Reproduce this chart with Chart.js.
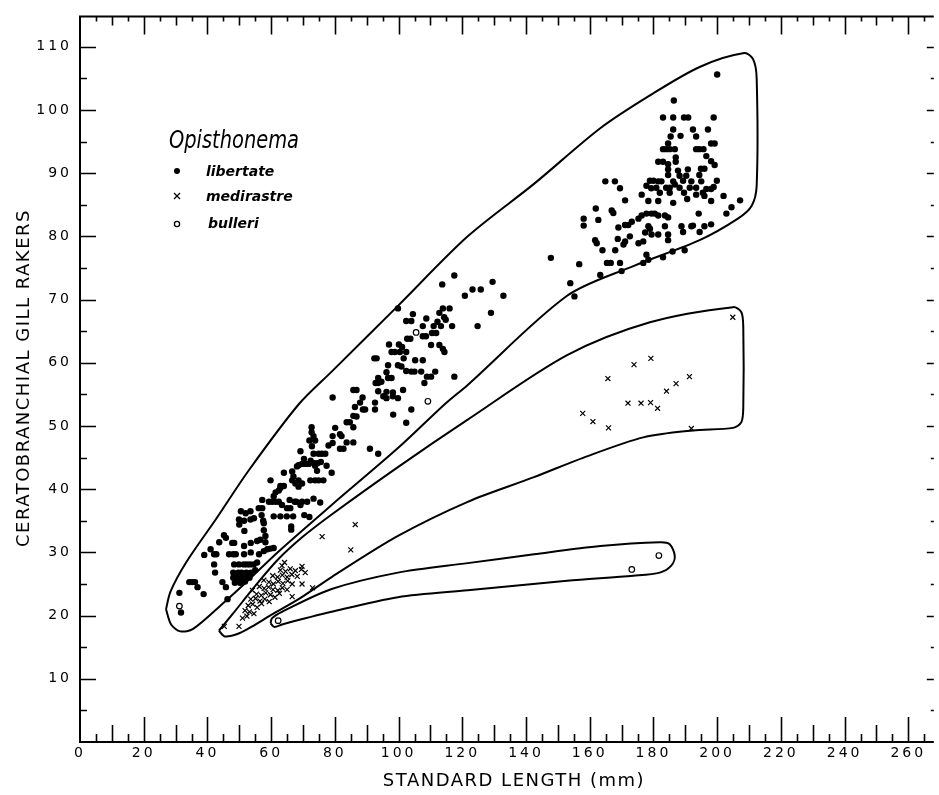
<!DOCTYPE html>
<html>
<head>
<meta charset="utf-8">
<script src="https://cdn.jsdelivr.net/npm/chart.js@4.4.0/dist/chart.umd.min.js"></script>
<style>
  html, body { margin: 0; padding: 0; background: #fff; }
  canvas { display: block; }
</style>
</head>
<body>
<canvas id="gill" width="939" height="795"></canvas>
<script>
// tick labels
const xLabels = [0, 20, 40, 60, 80, 100, 120, 140, 160, 180, 200, 220, 240, 260];
const yLabels = [10, 20, 30, 40, 50, 60, 70, 80, 90, 100, 110];

// standard length (mm), ceratobranchial gill rakers
const libertate = [
  [31.2,23.6],[31.7,20.5],[34.3,25.3],[35.2,25.3],[36.1,25.3],[36.9,24.5],[38.8,23.4],
  [39.0,29.6],[41.0,30.5],[42.1,29.7],[42.8,29.7],[42.1,28.1],[42.4,26.8],[43.7,31.6],
  [45.2,32.7],[45.8,32.3],[44.7,25.3],[46.3,22.6],[45.8,24.5],[47.8,31.5],[48.4,31.5],
  [46.8,29.7],[48.1,29.7],[48.9,29.7],[48.4,28.1],[49.9,28.1],[51.4,28.1],[52.4,28.1],
  [53.4,28.1],[54.5,28.1],[55.6,28.4],[48.1,26.8],[49.7,26.8],[50.7,26.8],[52.2,26.8],
  [53.6,26.8],[55.0,27.2],[48.1,26.0],[49.2,26.0],[50.7,26.0],[52.2,26.0],[53.2,26.0],
  [48.6,25.2],[50.2,25.2],[51.8,25.4],[51.5,29.7],[53.6,30.0],[51.5,31.0],[53.6,31.5],
  [56.2,29.7],[57.7,30.2],[58.8,30.5],[59.8,30.6],[60.8,30.7],[55.6,31.8],
  [56.6,32.0],[58.2,31.6],[50.0,34.4],[51.6,33.4],[50.5,36.5],[52.0,36.2],[53.5,36.5],
  [49.9,35.2],[51.5,35.0],[53.5,35.2],[54.6,35.4],[56.1,37.0],[57.0,35.9],[57.5,35.0],
  [57.7,34.6],[57.7,33.5],[58.2,32.6],[60.8,35.7],[62.9,35.7],[64.9,35.7],[66.9,35.7],
  [70.4,35.9],[66.3,34.1],[66.3,33.6],[72.0,35.6],[57.2,38.3],[57.2,37.0],[59.3,38.0],
  [60.3,38.0],[61.4,38.0],[62.4,38.0],[60.8,38.9],[61.4,39.5],[62.4,39.8],[62.9,40.2],
  [65.8,38.3],[67.4,38.0],[67.9,38.0],[69.7,38.0],[71.3,38.0],[73.3,38.5],[75.4,37.9],
  [63.4,37.5],[65.0,37.0],[66.0,37.0],[69.2,37.5],[59.8,41.4],[62.9,40.5],[64.0,40.5],
  [66.6,41.4],[67.6,40.9],[68.6,41.4],[69.7,40.9],[68.6,40.4],[72.3,41.4],[73.8,41.4],
  [74.9,41.4],[76.4,41.4],[64.0,42.6],[66.6,42.8],[68.1,43.6],[67.0,42.0],[73.8,43.7],
  [74.4,42.9],[77.4,43.7],[79.0,42.6],[68.6,43.8],[69.7,44.0],[70.8,44.0],[71.8,44.0],
  [72.4,44.5],[73.5,44.1],[74.5,44.1],[75.6,44.3],[73.3,45.6],[74.9,45.6],[75.9,45.6],
  [77.0,45.6],[69.2,46.0],[70.3,44.8],[72.0,47.7],[72.7,49.0],[72.7,49.8],[72.8,46.8],
  [73.3,48.4],[73.8,47.7],[78.0,46.9],[79.3,47.3],[79.3,48.4],[81.6,48.7],[82.1,48.4],
  [81.6,46.4],[82.7,46.4],[83.7,47.4],[85.8,47.4],[91.0,46.4],[93.6,45.6],[80.1,49.7],
  [83.7,50.6],[84.7,50.6],[85.8,49.8],[85.8,51.6],[86.8,51.5],[86.3,53.0],[87.9,53.7],
  [88.8,52.6],[89.5,52.6],[92.6,53.7],[92.6,52.6],[79.3,54.5],[98.3,51.8],[102.4,50.5],
  [104.0,52.6],[88.7,54.5],[95.2,54.7],[96.2,54.4],[98.2,54.7],[99.8,54.4],[85.8,55.7],
  [86.8,55.7],[93.6,55.5],[96.2,55.4],[98.2,55.3],[101.4,55.7],[92.8,56.8],[93.6,56.8],
  [94.6,57.0],[108.1,56.8],[96.2,58.5],[93.6,57.6],[96.7,57.6],[97.8,57.6],[102.4,58.7],
  [104.0,58.6],[105.0,58.6],[107.1,58.6],[108.9,57.8],[110.2,57.8],[111.5,58.6],
  [117.5,57.8],[96.7,59.6],[99.8,59.6],[100.9,59.4],[92.4,60.7],[93.1,60.7],[101.6,60.7],
  [105.2,60.4],[107.6,60.4],[97.8,61.7],[98.8,61.7],[100.4,61.7],[102.4,61.7],[97.0,62.9],
  [100.1,62.9],[101.1,62.5],[110.2,62.8],[112.8,62.8],[113.9,62.2],[114.4,61.7],
  [102.7,63.8],[103.7,63.8],[107.6,64.2],[108.6,64.2],[110.5,64.7],[111.8,64.7],
  [102.4,66.6],[104.0,66.6],[107.6,65.8],[111.0,65.8],[112.2,66.5],[113.3,65.8],
  [116.8,65.8],[108.7,67.0],[104.5,67.7],[112.8,67.9],[114.3,67.2],[114.8,66.8],
  [99.8,68.6],[113.9,68.6],[116.0,68.6],[124.8,65.8],[129.0,67.9],[120.8,70.6],[132.9,70.6],
  [123.2,71.6],[125.8,71.6],[113.7,72.4],[129.5,72.8],[117.5,73.8],
  [147.8,76.6],[156.7,75.6],[153.9,72.6],[155.2,70.5],[163.3,73.9],
  [165.4,75.8],[166.6,75.8],[169.5,75.8],[170.0,74.5],[161.7,79.4],[162.2,78.9],
  [164.0,77.8],[168.0,77.8],[168.8,79.6],[171.1,79.2],[170.6,78.7],[172.6,80.0],
  [169.0,81.4],[161.9,84.4],[158.1,82.8],[158.1,81.7],[162.7,82.6],[166.9,84.1],[167.4,83.7],
  [171.1,81.8],[172.1,81.8],[173.2,82.3],[175.3,82.8],[176.3,83.3],[177.8,83.6],
  [179.4,83.6],[180.4,83.6],[181.5,83.3],[183.6,83.3],[184.6,83.0],[178.4,81.6],
  [178.9,81.2],[183.6,81.6],[188.8,81.6],[191.9,81.6],[177.4,80.6],[179.4,80.3],
  [181.5,80.3],[184.6,80.3],[184.6,79.4],[189.3,80.7],[192.4,81.7],[194.5,80.7],
  [196.0,81.6],[198.1,81.9],[194.2,83.6],[202.9,83.6],[204.5,84.6],[207.2,85.7],
  [175.3,78.9],[176.8,79.2],[177.8,77.1],[178.4,76.3],[176.8,75.8],[183.0,76.7],
  [186.0,77.6],[189.8,77.8],[164.9,88.7],[167.9,88.7],[169.5,87.6],[171.1,85.7],
  [176.3,86.6],[178.4,85.6],[181.5,85.6],[182.0,86.9],[185.1,86.9],[186.2,85.3],
  [189.6,86.9],[190.6,85.9],[193.4,86.6],[195.5,86.9],[196.0,86.4],[198.1,85.6],[202.0,86.4],
  [177.8,88.0],[179.3,87.6],[180.9,87.7],[184.0,87.7],[185.1,87.7],[186.7,88.2],
  [188.2,87.7],[191.4,87.7],[193.4,87.7],[196.6,87.5],[198.1,87.5],[198.9,87.8],
  [178.9,88.8],[180.0,88.8],[181.5,88.7],[182.5,88.7],[186.2,88.7],[189.3,88.8],
  [191.9,88.7],[195.0,88.7],[199.9,88.8],[184.6,89.7],[188.2,89.6],[190.3,89.6],[194.4,89.7],
  [184.6,90.6],[187.7,90.4],[190.8,90.6],[194.9,90.7],[196.0,90.7],[181.5,91.8],
  [183.0,91.8],[184.6,91.4],[187.0,92.5],[187.0,91.8],[196.6,92.7],[198.1,91.9],[199.2,91.3],
  [183.0,93.8],[184.0,93.8],[185.1,93.8],[186.7,93.8],[193.4,93.8],[194.4,93.8],[195.7,93.8],
  [184.6,94.7],[198.1,94.7],[199.2,94.7],[186.2,96.9],[185.4,95.8],[188.5,95.9],
  [192.4,96.9],[193.4,95.8],[197.1,96.9],[183.0,98.8],[186.2,98.8],[189.6,98.8],
  [190.9,98.8],[198.9,98.8],[186.4,101.5],[200.0,105.6]
];

const medirastre = [
  [45.3,18.3],[49.9,18.3],[51.0,19.6],[52.4,19.9],[51.8,20.8],[53.2,20.6],[54.6,20.3],
  [52.8,21.6],[54.2,21.8],[55.6,21.3],[57.0,21.9],[53.6,22.6],[55.1,22.7],[56.5,22.3],
  [58.0,22.6],[59.4,22.2],[54.1,24.0],[55.4,23.4],[56.9,23.2],[58.3,23.6],[59.8,23.3],
  [61.2,22.9],[62.6,23.5],[56.3,24.6],[57.8,24.3],[59.2,24.5],[60.6,24.1],[62.1,24.0],
  [63.5,24.4],[65.0,24.1],[57.7,25.6],[59.3,25.3],[60.7,25.0],[62.2,25.4],[63.7,25.1],
  [65.2,25.5],[66.6,25.0],[60.5,26.3],[62.0,26.1],[63.5,26.4],[65.0,26.1],[66.5,26.5],
  [68.2,26.2],[69.7,25.0],[62.9,27.2],[64.5,27.0],[66.0,27.4],[67.6,27.1],[69.5,27.3],
  [70.7,26.8],[63.4,27.9],[64.2,28.4],[69.7,27.8],[66.6,23.0],[73.0,24.4],
  [76.0,32.5],[85.0,30.4],[86.4,34.4],
  [157.8,52.0],[161.0,50.7],[165.9,49.7],[165.7,57.5],[173.9,59.7],[179.2,60.7],
  [172.0,53.6],[176.1,53.6],[179.1,53.7],[181.3,52.8],[184.1,55.5],[187.1,56.7],
  [191.3,57.8],[191.9,49.6],[204.9,67.2]
];

const bulleri = [
  [31.2,21.5],[62.2,19.2],[105.5,64.8],[109.2,53.9],[173.2,27.3],[181.7,29.5]
];

// hand-drawn envelopes round each species
const envLibertate = [
  [27.0,21.0],[28.6,18.6],[31.5,17.5],[35.5,17.9],[45.0,22.0],[52.0,25.2],[62.0,30.0],
  [79.0,37.5],[99.8,46.5],[114.4,53.4],[121.7,56.5],[152.9,70.6],[173.7,75.3],
  [194.5,79.4],[206.5,82.8],[210.8,84.8],[212.4,88.0],[212.4,105.0],[211.3,108.0],
  [208.5,109.0],[194.5,106.8],[178.9,102.3],[163.3,97.1],[142.5,88.3],[121.7,80.0],
  [99.8,69.0],[79.0,58.6],[68.6,53.4],[53.0,43.0],[42.6,35.2],[33.3,28.4],[28.4,23.8],
  [27.0,21.0]
];
const envMedirastre = [
  [43.6,17.6],[45.5,16.7],[50.0,17.2],[54.1,18.3],[60.0,20.1],[68.6,22.6],[79.0,26.1],
  [99.8,32.6],[121.7,38.0],[142.5,41.9],[158.1,45.0],[176.8,48.2],[192.4,49.3],
  [205.0,49.7],[207.6,50.6],[208.2,53.0],[208.2,65.5],[207.6,68.0],[205.0,68.8],
  [178.9,66.4],[152.9,61.2],[121.7,51.0],[99.8,43.5],[79.0,36.0],[70.0,32.5],
  [62.0,28.8],[55.0,24.7],[48.0,20.3],[43.6,17.6]
];
const envBulleri = [
  [59.8,18.8],[61.0,18.2],[63.4,18.6],[79.0,20.6],[99.8,22.9],[121.7,24.0],
  [152.9,25.5],[173.7,26.3],[182.0,26.8],[185.6,27.9],[186.7,29.4],[185.1,31.3],
  [182.0,31.6],[163.3,31.0],[142.5,29.7],[121.7,28.3],[99.8,26.8],[79.0,24.2],
  [63.4,20.6],[60.3,19.6],[59.8,18.8]
];

const toXY = arr => arr.map(p => ({ x: p[0], y: p[1] }));

const outline = pts => ({
  data: toXY(pts),
  showLine: true,
  borderColor: '#000',
  borderWidth: 2,
  pointRadius: 0,
  tension: 0.3,
  fill: false
});

const tickFont = { family: 'DejaVu Sans', size: 14 };

const frame = {
  id: 'frame',
  beforeDraw(chart) {
    chart.ctx.letterSpacing = '3px';
  },
  beforeDatasetsDraw(chart) {
    const { ctx, chartArea: a, scales: { x, y } } = chart;
    ctx.save();
    ctx.strokeStyle = '#000';
    ctx.lineWidth = 2;
    ctx.beginPath();
    ctx.moveTo(a.right, a.top);
    ctx.lineTo(a.left, a.top);
    ctx.lineTo(a.left, a.bottom);
    ctx.lineTo(a.right, a.bottom);
    ctx.stroke();
    ctx.lineWidth = 1.6;
    ctx.beginPath();
    for (let v = 5; v < x.max; v += 5) {
      const px = Math.round(x.getPixelForValue(v)) + 0.5;
      const lb = v % 20 === 0 ? 25 : v % 10 === 0 ? 17 : 8;
      const lt = v % 20 === 0 ? 18 : v % 10 === 0 ? 9 : 5;
      ctx.moveTo(px, a.bottom); ctx.lineTo(px, a.bottom - lb);
      ctx.moveTo(px, a.top); ctx.lineTo(px, a.top + lt);
    }
    for (let v = 5; v < y.max; v += 5) {
      const py = Math.round(y.getPixelForValue(v)) + 0.5;
      const ll = v % 10 === 0 ? 16 : 7;
      const lr = v % 10 === 0 ? 7 : 3;
      ctx.moveTo(a.left, py); ctx.lineTo(a.left + ll, py);
      ctx.moveTo(a.right, py); ctx.lineTo(a.right - lr, py);
    }
    ctx.stroke();
    ctx.restore();
  },
  afterDraw(chart) {
    const { ctx } = chart;
    ctx.save();
    ctx.fillStyle = '#000';
    ctx.strokeStyle = '#000';

    // axis titles
    ctx.font = '18px "DejaVu Sans"';
    ctx.letterSpacing = '1.5px';
    ctx.textAlign = 'center';
    ctx.textBaseline = 'middle';
    ctx.fillText('STANDARD LENGTH (mm)', 514, 781);
    ctx.save();
    ctx.translate(24, 378);
    ctx.rotate(-Math.PI / 2);
    ctx.fillText('CERATOBRANCHIAL GILL RAKERS', 0, 0);
    ctx.restore();

    // legend
    ctx.letterSpacing = '0px';
    ctx.textAlign = 'left';
    ctx.textBaseline = 'alphabetic';
    ctx.font = 'italic 24px "DejaVu Sans"';
    const title = 'Opisthonema';
    const sx = 130 / ctx.measureText(title).width;
    ctx.save();
    ctx.translate(169, 148);
    ctx.scale(sx, 1);
    ctx.fillText(title, 0, 0);
    ctx.restore();

    ctx.font = 'italic bold 14px "DejaVu Sans"';
    ctx.textBaseline = 'middle';
    const mx = 177;
    ctx.beginPath();
    ctx.arc(mx, 171, 3, 0, Math.PI * 2);
    ctx.fill();
    ctx.fillText('libertate', 206, 172);
    ctx.lineWidth = 1.3;
    ctx.beginPath();
    ctx.moveTo(mx - 3, 193); ctx.lineTo(mx + 3, 199);
    ctx.moveTo(mx + 3, 193); ctx.lineTo(mx - 3, 199);
    ctx.stroke();
    ctx.fillText('medirastre', 206, 197);
    ctx.beginPath();
    ctx.arc(mx, 224, 2.6, 0, Math.PI * 2);
    ctx.stroke();
    ctx.fillText('bulleri', 208, 224);
    ctx.restore();
  }
};

new Chart(document.getElementById('gill'), {
  type: 'scatter',
  data: {
    datasets: [
      {
        label: 'libertate',
        data: toXY(libertate),
        pointStyle: 'circle',
        pointRadius: 3.2,
        backgroundColor: '#000',
        borderWidth: 0
      },
      {
        label: 'medirastre',
        data: toXY(medirastre),
        pointStyle: 'crossRot',
        pointRadius: 3.5,
        borderColor: '#000',
        borderWidth: 1.2
      },
      {
        label: 'bulleri',
        data: toXY(bulleri),
        pointStyle: 'circle',
        pointRadius: 2.8,
        backgroundColor: '#fff',
        borderColor: '#000',
        borderWidth: 1.2
      },
      outline(envLibertate),
      outline(envMedirastre),
      outline(envBulleri)
    ]
  },
  options: {
    responsive: false,
    animation: false,
    events: [],
    layout: { padding: { top: 7, left: 0, right: 0, bottom: 0 } },
    plugins: {
      legend: { display: false },
      tooltip: { enabled: false }
    },
    scales: {
      x: {
        type: 'linear',
        min: 0,
        max: 268,
        grid: { display: false, drawTicks: false },
        border: { display: false },
        afterBuildTicks: s => { s.ticks = xLabels.map(v => ({ value: v })); },
        afterFit: s => { s.height = 53; },
        ticks: { font: tickFont, color: '#000', padding: 3, maxRotation: 0, autoSkip: false }
      },
      y: {
        type: 'linear',
        min: 0,
        max: 114.8,
        grid: { display: false, drawTicks: false },
        border: { display: false },
        afterBuildTicks: s => { s.ticks = yLabels.map(v => ({ value: v })); },
        afterFit: s => { s.width = 80; },
        ticks: { font: tickFont, color: '#000', padding: 8, autoSkip: false }
      }
    }
  },
  plugins: [frame]
});
</script>
</body>
</html>
